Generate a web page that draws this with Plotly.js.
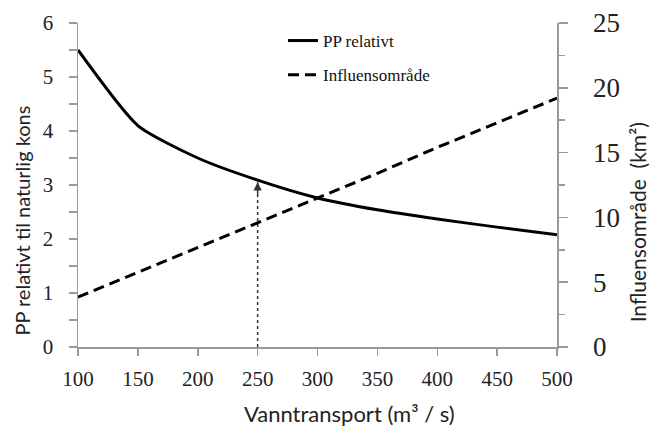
<!DOCTYPE html>
<html><head><meta charset="utf-8">
<script src="https://cdn.plot.ly/plotly-3.0.1.min.js"></script>
<style>html,body{margin:0;padding:0;background:#fff}#c{width:651px;height:428px}</style>
</head><body><div id="c"></div>
<script>
const vanntransport = [100,150,200,250,300,350,400,450,500];
const ppRelativt = [5.5,4.1,3.5,3.09,2.76,2.54,2.37,2.22,2.08];
const influensomrade = [3.85,5.77,7.69,9.6,11.5,13.4,15.4,17.3,19.2];
const arrowX = 250;
const arrowTop = 3.05;
const xTicks = [100,150,200,250,300,350,400,450,500];
const leftTicks = [0,1,2,3,4,5,6];
const rightTicks = [0,5,10,15,20,25];

const serif = "'Liberation Serif', 'Times New Roman', Times, serif";
const sans = "Lato";
const axisGray = "#9a9a9a";

const traces = [
  {x: vanntransport, y: ppRelativt, name: "PP relativt", type: "scatter", mode: "lines",
   line: {color: "#000", width: 3, shape: "spline", smoothing: 0.6}, legendgroup: "a"},
  {x: vanntransport, y: influensomrade, name: "Influensområde", type: "scatter", mode: "lines",
   yaxis: "y2", line: {color: "#000", width: 3, dash: "11px,6px"}, legendgroup: "b"},
  {x: [arrowX, arrowX], y: [0, arrowTop], type: "scatter", mode: "lines", showlegend: false,
   line: {color: "#333", width: 1.5, dash: "dot"}, hoverinfo: "skip"}
];

const layout = {
  width: 651, height: 428,
  margin: {l: 78, r: 94, t: 23, b: 81},
  paper_bgcolor: "#fff", plot_bgcolor: "#fff",
  font: {family: serif},
  showlegend: true,
  legend: {x: 0.428, y: 1.0, xanchor: "left", yanchor: "top", bgcolor: "rgba(0,0,0,0)",
           font: {family: serif, size: 17, color: "#111"}, traceorder: "grouped", tracegroupgap: 9},
  xaxis: {range: [100, 500], tickvals: xTicks, ticktext: xTicks.map(String),
          showgrid: false, zeroline: false, showline: true, linecolor: axisGray, linewidth: 1.5,
          ticks: "outside", ticklen: 7, tickcolor: axisGray, tickwidth: 1.5, ticklabelstandoff: 5,
          tickfont: {family: serif, size: 21, color: "#222"}},
  yaxis: {range: [0, 6], tickvals: leftTicks, ticktext: leftTicks.map(String),
          showgrid: false, zeroline: false, showline: true, linecolor: axisGray, linewidth: 1.5,
          ticks: "outside", ticklen: 8, tickcolor: axisGray, tickwidth: 1.5, ticklabelstandoff: 11,
          minor: {dtick: 0.5, ticks: "outside", ticklen: 8, tickcolor: axisGray, tickwidth: 1.5},
          tickfont: {family: serif, size: 21, color: "#222"}},
  yaxis2: {range: [0, 25], overlaying: "y", side: "right", tickvals: rightTicks, ticktext: rightTicks.map(String),
          showgrid: false, zeroline: false, showline: true, linecolor: axisGray, linewidth: 1.5,
          ticks: "outside", ticklen: 9, tickcolor: axisGray, tickwidth: 1.5, ticklabelstandoff: 20,
          minor: {dtick: 2.5, ticks: "outside", ticklen: 6, tickcolor: axisGray, tickwidth: 1.5},
          tickfont: {family: serif, size: 27, color: "#222"}},
  annotations: [
    {x: arrowX, y: arrowTop, ax: arrowX, ay: arrowTop - 0.25, axref: "x", ayref: "y", xref: "x", yref: "y",
     showarrow: true, arrowhead: 2, arrowsize: 1.1, arrowwidth: 1.5, arrowcolor: "#333", text: ""},
    {text: "Vanntransport (m³ / s)", xref: "paper", yref: "paper", x: 0.566, y: -0.205,
     xanchor: "center", yanchor: "middle", showarrow: false, font: {family: sans, size: 22, color: "#222"}},
    {text: "PP relativt til naturlig kons", xref: "paper", yref: "paper", x: -0.117, y: 0.39,
     xanchor: "center", yanchor: "middle", textangle: -90, showarrow: false, font: {family: sans, size: 20, color: "#222"}},
    {text: "Influensområde  (km²)", xref: "paper", yref: "paper", x: 1.17, y: 0.386,
     xanchor: "center", yanchor: "middle", textangle: -90, showarrow: false, font: {family: sans, size: 21, color: "#222"}}
  ]
};

Plotly.newPlot("c", traces, layout, {displayModeBar: false, staticPlot: true});
</script></body></html>
